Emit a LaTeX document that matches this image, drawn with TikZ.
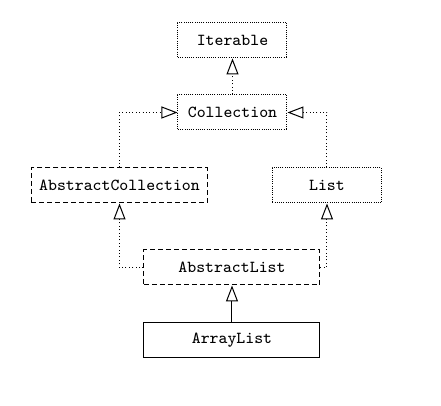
\documentclass[tikz,border=0pt]{standalone}
\usepackage{tikz}
\usetikzlibrary{arrows.meta, positioning}

\begin{document}
\begin{tikzpicture}[
    x=0.5pt, y=-0.5pt,
    line width=0.5pt,
    every node/.style={rectangle, draw, minimum height=17.5pt, font=\ttfamily\fontsize{8.4}{10}\selectfont, inner sep=2pt},
    iface/.style={dash pattern=on 0.5pt off 0.6pt, minimum width=54.5pt},
    absclass/.style={dash pattern=on 2.5pt off 1.5pt, minimum width=88pt},
    cls/.style={solid, minimum width=88pt},
    realize/.style={draw, dash pattern=on 0.5pt off 1.2pt, -{Triangle[open, length=8pt, width=6pt]}},
    inherit/.style={draw, solid, -{Triangle[open, length=8pt, width=6pt]}},
  ]
  \useasboundingbox (0,0) rectangle (441,406);

  \node[iface] (iterable) at (232.5,40.5) {Iterable};
  \node[iface] (collection) at (232.5,112.5) {Collection};
  \node[absclass] (abscoll) at (119.5,185.5) {AbstractCollection};
  \node[iface] (list) at (327,185.5) {List};
  \node[absclass] (abslist) at (232,267.5) {AbstractList};
  \node[cls] (arraylist) at (232,340.5) {ArrayList};

  \draw[realize] (collection) -- (iterable);
  \draw[realize] (abscoll.north) |- (collection.west);
  \draw[realize] (list.north) |- (collection.east);
  \draw[realize] (abslist.west) -| (abscoll.south);
  \draw[realize] (abslist.east) -| (list.south);
  \draw[inherit] (arraylist) -- (abslist);
\end{tikzpicture}
\end{document}
